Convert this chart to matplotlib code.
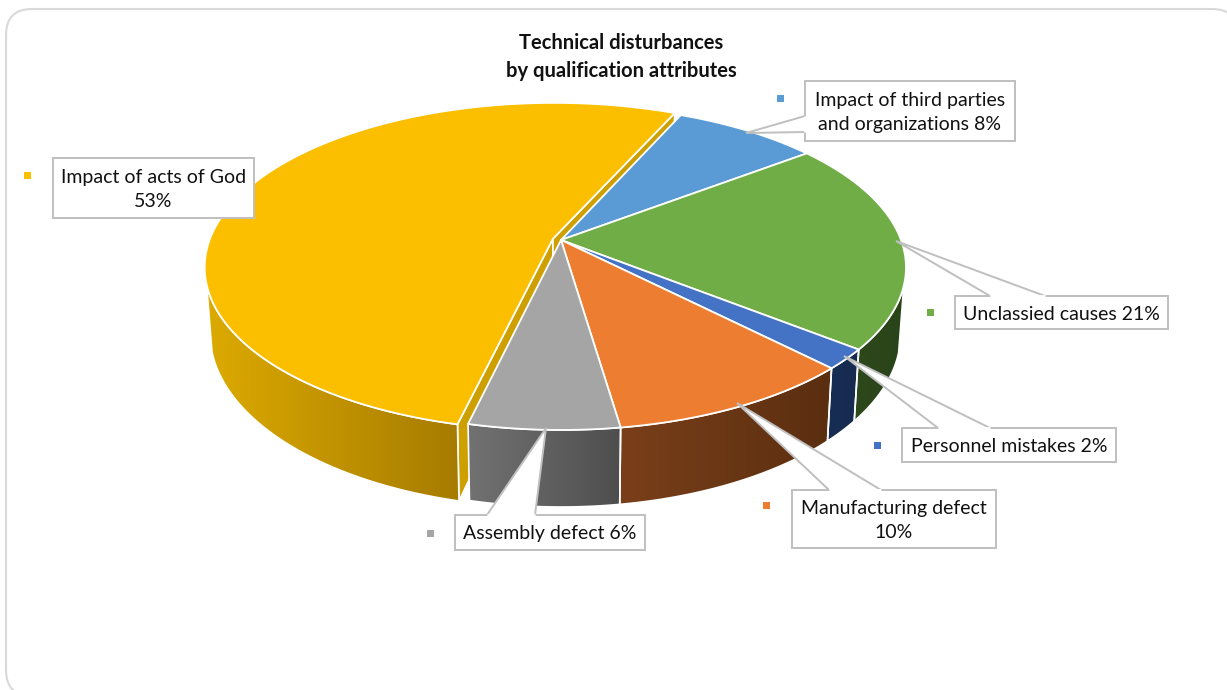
import numpy as np
import matplotlib
matplotlib.use('Agg')
import matplotlib.pyplot as plt
from matplotlib.patches import FancyBboxPatch, Polygon, Rectangle
from matplotlib.colors import LinearSegmentedColormap

# slices, clockwise from the cut at the top
categories = ['Impact of third parties\nand organizations', 'Unclassied causes', 'Personnel mistakes',
              'Manufacturing defect', 'Assembly defect', 'Impact of acts of God']
values = [8, 21, 2, 10, 6, 53]
title = 'Technical disturbances\nby qualification attributes'

top_colors = ['#5B9BD5', '#70AD47', '#4472C4', '#ED7D31', '#A5A5A5', '#FBBF00']
wall_colors = [('#4a7fb0', '#3c6a94'), ('#2d481b', '#2a4419'), ('#182d54', '#172b50'),
               ('#7a3f1a', '#5a2e10'), ('#727272', '#4e4e4e'), ('#dcaa00', '#a67b00')]
line_gray = '#bfbfbf'

# label box (x0, y0, x1, y1), line break after value or not, key square, callout tip and base
boxes = [(805, 81, 1015, 141), (955, 296, 1168, 329), (902, 428, 1116, 462),
         (792, 490, 996, 548), (455, 515, 645, 550), (53, 158, 254, 218)]
breaks = [' ', ' ', ' ', '\n', ' ', '\n']
keys = [(780, 98), (930, 312), (877, 445), (766, 505), (430, 533), (27, 175)]
callouts = [[(746, 133), (805, 116), (805, 132)], [(896, 241), (1045, 296), (990, 296)],
            [(844, 356), (990, 428), (938, 428)], [(737, 403), (881, 490), (829, 490)],
            [(546, 428), (535, 515), (487, 515)], None]

# perspective of the pie in pixels
cx, apex_y = 561, 240
radius = 340
front_gain, tilt = 117.3, -0.169
depth = 64
start_angle = 24
explode = [0, 0, 0, 0, 0, 0.025]
slice_scale = [1, 1, 1, 1, 1, 1.01]
# wall only shows between these angles, the ends are the silhouette lines
wall_from, wall_to = 106, 254


def project(u, v, bottom=False):
    den = 1 + tilt * v
    r = radius * (0.985 if bottom else 1)
    x = cx + r * u / den
    y = (apex_y + (depth if bottom else 0) + front_gain * v) / den
    return x, y


def arc(a0, a1, shift, bottom=False, scale=1):
    t = np.radians(np.linspace(a0, a1, 200))
    return project(scale * np.sin(t) + shift[0], -scale * np.cos(t) + shift[1], bottom)


fig = plt.figure(figsize=(12.27, 6.9), dpi=100)
plt.rcParams['font.family'] = ['Lato', 'DejaVu Sans']
ax = fig.add_axes([0, 0, 1, 1])
ax.set_axis_off()

ax.add_patch(FancyBboxPatch((6, 9), 1232, 687, boxstyle='round,pad=0,rounding_size=26',
                            fc='white', ec='#d9d9d9', lw=1.5))

shares = np.array(values) / sum(values) * 360
edges = start_angle + np.concatenate([[0], np.cumsum(shares)])

slices = []
for i in range(len(values)):
    a0, a1 = edges[i], edges[i + 1]
    mid = np.radians((a0 + a1) / 2)
    shift = (explode[i] * np.sin(mid), -explode[i] * np.cos(mid))
    slices.append((a0, a1, shift))

# cut faces of the exploded slice go first, the rest is painted over them
a0, a1, shift = slices[-1]
for ang in (a0, a1):
    t = np.radians(ang)
    s = slice_scale[-1]
    tx, ty = project(s * np.sin(t) + shift[0], -s * np.cos(t) + shift[1])
    bx, by = project(s * np.sin(t) + shift[0], -s * np.cos(t) + shift[1], True)
    ox, oy = project(shift[0], shift[1])
    qx, qy = project(shift[0], shift[1], True)
    ax.add_patch(Polygon([(ox, oy), (tx, ty), (bx, by), (qx, qy)], fc='#cda000', ec='white', lw=1.2, zorder=2))

# side walls with a left to right shade
for i, (a0, a1, shift) in enumerate(slices):
    a_from, a_to = max(a0, wall_from), min(a1, wall_to)
    if a_to <= a_from:
        continue
    tx, ty = arc(a_from, a_to, shift, scale=slice_scale[i])
    bx, by = arc(a_from, a_to, shift, True, scale=slice_scale[i])
    pts = np.column_stack([np.r_[tx, bx[::-1]], np.r_[ty, by[::-1]]])
    poly = Polygon(pts, fc='none', ec='white', lw=1.2, zorder=4)
    ax.add_patch(poly)
    xs = np.r_[tx, bx]
    cmap = LinearSegmentedColormap.from_list('w', wall_colors[i])
    im = ax.imshow(np.linspace(0, 1, 256)[None, :], cmap=cmap, aspect='auto', zorder=3,
                   extent=(xs.min(), xs.max(), by.max(), min(ty.min(), by.min())))
    im.set_clip_path(poly)

# top faces
for i, (a0, a1, shift) in enumerate(slices):
    tx, ty = arc(a0, a1, shift, scale=slice_scale[i])
    ox, oy = project(shift[0], shift[1])
    ax.add_patch(Polygon(np.column_stack([np.r_[ox, tx], np.r_[oy, ty]]), fc=top_colors[i],
                         ec='white', lw=1.3, joinstyle='round', zorder=5))

# label boxes with their callouts
for i, cat in enumerate(categories):
    x0, y0, x1, y1 = boxes[i]
    ax.add_patch(Rectangle((x0, y0), x1 - x0, y1 - y0, fc='white', ec=line_gray, lw=1.4, zorder=7))
    if callouts[i] is not None:
        tip, p1, p2 = callouts[i]
        ax.add_patch(Polygon([p1, tip, p2], closed=False, fc='white', ec=line_gray, lw=1.4, zorder=8))
        ax.plot([p1[0], p2[0]], [p1[1], p2[1]], color='white', lw=2, zorder=9, solid_capstyle='butt')
    ax.text((x0 + x1) / 2, (y0 + y1) / 2 + 1.5, f'{cat}{breaks[i]}{values[i]}%', ha='center', va='center',
            fontsize=14, color='#111111', linespacing=1.55, zorder=10)
    kx, ky = keys[i]
    ax.add_patch(Rectangle((kx - 3.5, ky - 3.5), 7, 7, fc=top_colors[i], ec='none', zorder=7))

ax.text(621, 57, title, ha='center', va='center', fontsize=14.5, fontweight='bold', color='#111111',
        linespacing=1.45, zorder=10)

ax.set_xlim(0, 1227)
ax.set_ylim(690, 0)
fig.savefig('out.png', dpi=100)
